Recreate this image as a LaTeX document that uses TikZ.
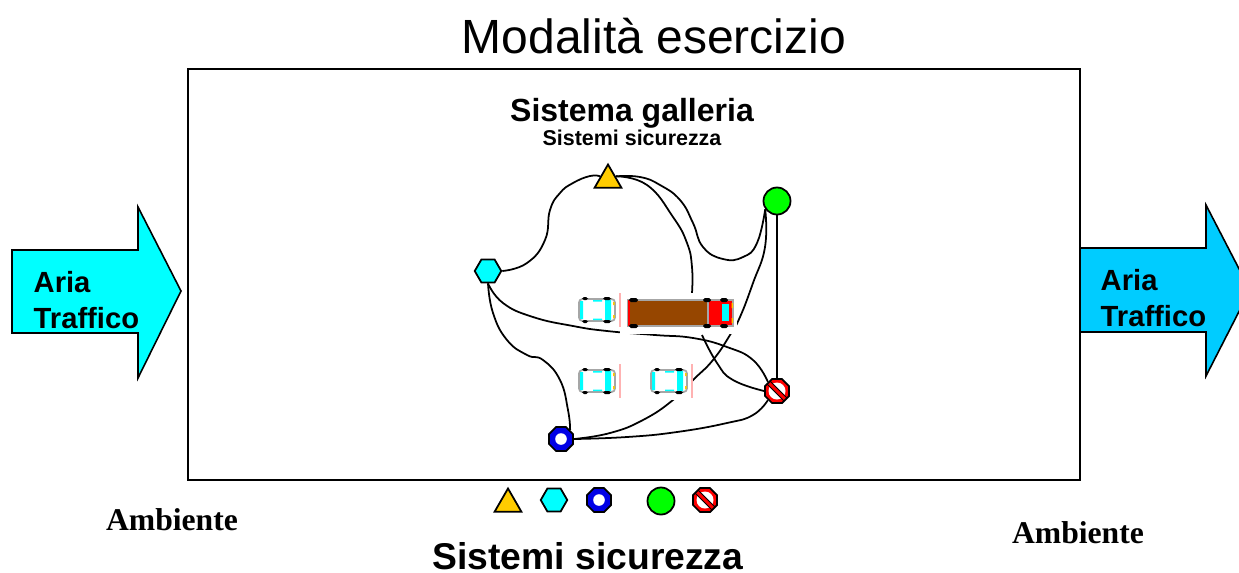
\documentclass[tikz,border=0pt]{standalone}
\usepackage{fontspec}
\setmainfont{Liberation Serif}
\setsansfont{Liberation Sans}
\usepackage{tikz}
\usetikzlibrary{shapes.geometric}

\definecolor{ambra}{RGB}{255,204,0}
\definecolor{ciano}{RGB}{0,255,255}
\definecolor{azzurro}{RGB}{0,204,255}
\definecolor{verde}{RGB}{0,255,0}
\definecolor{blu}{RGB}{0,0,230}
\definecolor{rosso}{RGB}{255,0,0}
\definecolor{marrone}{RGB}{150,70,0}

\begin{document}
\begin{tikzpicture}[x=.01cm,y=-.01cm]
	
	\tikzset{symbol/.style = {draw,line width=.5pt,inner sep=0pt}}
	\tikzset{triangolo/.style = {symbol,regular polygon,regular polygon sides=3,minimum size=.31cm,fill=ambra}}
	\tikzset{esagono/.style = {symbol,regular polygon,regular polygon sides=6,minimum size=.265cm,fill=ciano}}
	\tikzset{cerchio/.style = {symbol,circle,minimum size=.27cm,fill=verde}}
	\tikzset{anello/.style = {symbol,regular polygon,regular polygon sides=8,minimum size=.26cm,fill=blu,
		path picture={\fill[white] (path picture bounding box.center) circle (.058cm);}}}
	\tikzset{divieto/.style = {symbol,regular polygon,regular polygon sides=8,minimum size=.26cm,fill=rosso,
		path picture={\fill[white] (path picture bounding box.center) circle (.085cm);
			\draw[black,line width=1.5pt] (path picture bounding box.north west) -- (path picture bounding box.south east);
			\draw[rosso,line width=.9pt] (path picture bounding box.north west) -- (path picture bounding box.south east);}}}
	\tikzset{edge/.style = {line width=.5pt}}
	\tikzset{freccia/.style = {draw,line width=.45pt}}
	\tikzset{titolo/.style = {font=\sffamily\fontsize{13.65}{16}\selectfont}}
	\tikzset{sistema/.style = {font=\sffamily\bfseries\fontsize{9.1}{11}\selectfont}}
	\tikzset{sottotitolo/.style = {font=\sffamily\bfseries\fontsize{6.1}{8}\selectfont}}
	\tikzset{legenda/.style = {font=\sffamily\bfseries\fontsize{10.6}{13}\selectfont}}
	\tikzset{flusso/.style = {font=\sffamily\bfseries\fontsize{8.3}{10.3}\selectfont,align=left,anchor=west,inner sep=0pt}}
	\tikzset{ambiente/.style = {font=\bfseries\fontsize{9}{11}\selectfont}}
	\tikzset{ruota/.style = {fill=black,rounded corners=.5pt}}
	\tikzset{car/.pic = {
		\draw[gray!70,fill=white,line width=.5pt,rounded corners=1pt] (-18,-11) rectangle (18,11);
		\fill[ciano] (8,-10) rectangle (14,10) (-17,-9) rectangle (-14,9) (-4,-10) rectangle (5,-8.5) (-4,8.5) rectangle (5,10);
		\fill[ambra] (16,-8) rectangle (17.5,-5) (16,5) rectangle (17.5,8);
		\fill[ruota] (-15,-13) rectangle (-9,-10) (6,-13) rectangle (14,-10) (-15,10) rectangle (-9,13) (6,10) rectangle (14,13);
		\draw[red!30,line width=.3pt] (23,-17) -- (23,17);
	}}
	
	\clip (0,0) rectangle (1239,572);
	
	% frecce ai due imbocchi
	\draw[freccia,fill=ciano] (12,250) -- (138,250) -- (138,207) -- (181,291) -- (138,378) -- (138,333) -- (12,333) -- cycle;
	\draw[freccia,fill=azzurro] (1080,248) -- (1206,248) -- (1206,205) -- (1250,290) -- (1206,376) -- (1206,332) -- (1080,332) -- cycle;
	\node[flusso] (ariaL) at (33,300) {Aria\\Traffico};
	\node[flusso] (ariaR) at (1100,298) {Aria\\Traffico};
	
	% galleria
	\draw[line width=.55pt] (188,69) rectangle (1080,480);
	\node[titolo] (titolo) at (654,36) {Modalità esercizio};
	\node[sistema] (galleria) at (632,113) {Sistema galleria};
	\node[sottotitolo] (sicurezza) at (632,138) {Sistemi sicurezza};
	
	\node[triangolo] (tri) at (608,180) {};
	\node[esagono] (esa) at (488,271) {};
	\node[cerchio] (cer) at (777,201) {};
	\node[anello] (ane) at (561,439) {};
	\node[divieto] (div) at (777,391) {};
	\coordinate (camionN) at (692,293);
	\coordinate (camionS) at (702,335);
	
	\draw[edge] plot[smooth,tension=.8] coordinates {(esa.east) (527,263) (545,240) (550,210) (560,193) (573,183) (590,176) (tri.155)};
	\draw[edge] plot[smooth,tension=.8] coordinates {(tri.25) (640,177) (660,185) (680,200) (693,223) (703,247) (723,259) (743,257) (757,243) (cer.215)};
	\draw[edge] plot[smooth,tension=.8] coordinates {(tri.25) (647,185) (673,217) (687,243) (692,267) (camionN)};
	\draw[edge] plot[smooth,tension=.8] coordinates {(cer.215) (765,247) (753,283) (740,317) (730,335) (713,360) (693,380) (673,400) (643,420) (610,433) (ane.east)};
	\draw[edge] (cer) -- (div);
	\draw[edge] plot[smooth,tension=.8] coordinates {(esa.south) (503,303) (533,317) (573,326) (607,331) (655,335) (693,338) (727,347) (753,360) (div.135)};
	\draw[edge] plot[smooth,tension=.8] coordinates {(esa.south) (493,313) (507,340) (527,355) (543,360) (560,380) (568,410) (ane.north east)};
	\draw[edge] plot[smooth,tension=.8] coordinates {(camionS) (717,363) (733,380) (div.west)};
	\draw[edge] plot[smooth,tension=.8] coordinates {(ane.east) (627,437) (677,432) (727,423) (753,415) (div.225)};
	
	% sfondo bianco sotto i veicoli
	\fill[white] (620,293) rectangle (737,334);
	\fill[white] (650,365) rectangle (692,400);
	
	\pic at (597,310) {car};
	\pic at (597,381) {car};
	\pic at (669,381) {car};
	
	% camion
	\draw[gray!70,fill=marrone,line width=.5pt] (628,300) rectangle (708,326);
	\draw[gray!70,fill=rosso,line width=.5pt] (708,300) rectangle (733,326);
	\fill[ciano] (722,304) rectangle (729,321);
	\fill[ambra] (731.5,303) rectangle (733,308) (731.5,318) rectangle (733,323);
	\fill[rosso] (628,300) rectangle (630,326);
	\fill[ruota] (629,298) rectangle (638,302) (703,298) rectangle (711,302) (629,324) rectangle (638,328) (703,324) rectangle (711,328) (720,298) rectangle (728,302) (720,324) rectangle (728,328);
	
	% legenda
	\node[triangolo] (triL) at (508,504) {};
	\node[esagono] (esaL) at (554,500) {};
	\node[anello] (aneL) at (599,500) {};
	\node[cerchio] (cerL) at (661,501) {};
	\node[divieto] (divL) at (705,500) {};
	\node[legenda] (sistemi) at (588,556) {Sistemi sicurezza};
	\node[ambiente] (ambL) at (172,520) {Ambiente};
	\node[ambiente] (ambR) at (1078,533) {Ambiente};
\end{tikzpicture}
\end{document}
